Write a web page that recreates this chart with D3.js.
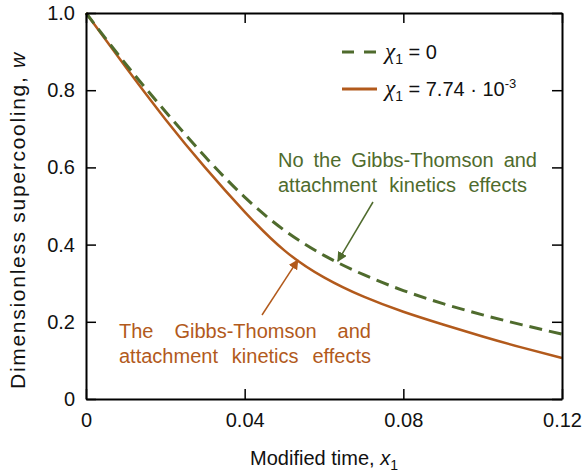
<!DOCTYPE html>
<html>
<head>
<meta charset="utf-8">
<script src="https://cdn.jsdelivr.net/npm/d3@7"></script>
<style>
  body { margin: 0; background: #fff; }
  text { font-family: "Liberation Sans", Arial, sans-serif; }
</style>
</head>
<body>
<div id="chart"></div>
<script>
// data
var timeValues = [0, 0.01, 0.02, 0.03, 0.04, 0.05, 0.06, 0.07, 0.08, 0.09, 0.10, 0.11, 0.12];
var noEffects = [1.0, 0.868, 0.745, 0.628, 0.523, 0.437, 0.372, 0.322, 0.281, 0.247, 0.218, 0.192, 0.168];
var withEffects = [1.0, 0.86, 0.725, 0.60, 0.485, 0.385, 0.315, 0.265, 0.226, 0.193, 0.162, 0.133, 0.106];
var xTicks = [0, 0.04, 0.08, 0.12];
var yTicks = [0, 0.2, 0.4, 0.6, 0.8, 1.0];
var xTickLabels = ["0", "0.04", "0.08", "0.12"];
var yTickLabels = ["0", "0.2", "0.4", "0.6", "0.8", "1.0"];

var width = 582, height = 472;
var plotLeft = 86, plotRight = 562, plotTop = 13, plotBottom = 399;
var green = "#4f6b2d", brown = "#b25a1c";

var svg = d3.select("#chart").append("svg")
    .attr("width", width)
    .attr("height", height);

var xScale = d3.scaleLinear().domain([0, 0.12]).range([plotLeft, plotRight]);
var yScale = d3.scaleLinear().domain([0, 1]).range([plotBottom, plotTop]);

// arrow heads
var defs = svg.append("defs");
function marker(id, color) {
    defs.append("marker")
        .attr("id", id)
        .attr("viewBox", "0 0 10 10")
        .attr("refX", 9).attr("refY", 5)
        .attr("markerWidth", 10).attr("markerHeight", 10)
        .attr("markerUnits", "userSpaceOnUse")
        .attr("orient", "auto")
        .append("path")
        .attr("d", "M0,0 L10,5 L0,10 Z")
        .attr("fill", color);
}
marker("arrGreen", green);
marker("arrBrown", brown);

// curves
var line = d3.line()
    .curve(d3.curveNatural)
    .x(function(d) { return xScale(d[0]); })
    .y(function(d) { return yScale(d[1]); });

svg.append("path")
    .datum(timeValues.map(function(t, i) { return [t, withEffects[i]]; }))
    .attr("d", line)
    .attr("fill", "none")
    .attr("stroke", brown)
    .attr("stroke-width", 2.5);

svg.append("path")
    .datum(timeValues.map(function(t, i) { return [t, noEffects[i]]; }))
    .attr("d", line)
    .attr("fill", "none")
    .attr("stroke", green)
    .attr("stroke-width", 3)
    .attr("stroke-dasharray", "13,7");

// frame and ticks on all four sides
var axes = svg.append("g").attr("class", "axes");
var tickLen = 10;
axes.append("g")
    .attr("transform", "translate(0," + plotBottom + ")")
    .call(d3.axisBottom(xScale).tickValues(xTicks).tickSizeInner(-tickLen).tickSizeOuter(0).tickPadding(14)
        .tickFormat(function(d, i) { return xTickLabels[i]; }));
axes.append("g")
    .attr("transform", "translate(0," + plotTop + ")")
    .call(d3.axisTop(xScale).tickValues(xTicks).tickSizeInner(-tickLen).tickSizeOuter(0).tickFormat(""));
axes.append("g")
    .attr("transform", "translate(" + plotLeft + ",0)")
    .call(d3.axisLeft(yScale).tickValues(yTicks).tickSizeInner(-tickLen).tickSizeOuter(0).tickPadding(11)
        .tickFormat(function(d, i) { return yTickLabels[i]; }));
axes.append("g")
    .attr("transform", "translate(" + plotRight + ",0)")
    .call(d3.axisRight(yScale).tickValues(yTicks).tickSizeInner(-tickLen).tickSizeOuter(0).tickFormat(""));

axes.selectAll(".domain").attr("stroke", "#000").attr("stroke-width", 2);
axes.selectAll(".tick line").attr("stroke", "#000").attr("stroke-width", 1.5);
axes.selectAll(".tick text")
    .attr("font-family", "Liberation Sans, Arial, sans-serif")
    .attr("font-size", 20)
    .attr("fill", "#111");

// axis titles
var xTitle = svg.append("text")
    .attr("x", (plotLeft + plotRight) / 2)
    .attr("y", 465)
    .attr("text-anchor", "middle")
    .attr("font-size", 20)
    .attr("fill", "#111");
xTitle.append("tspan").text("Modified time, ");
xTitle.append("tspan").attr("font-style", "italic").text("x");
xTitle.append("tspan").attr("dy", 5).attr("font-size", 14).text("1");

var yTitle = svg.append("text")
    .attr("transform", "translate(25,220) rotate(-90)")
    .attr("text-anchor", "middle")
    .attr("font-size", 21)
    .attr("fill", "#111");
yTitle.append("tspan").text("Dimensionless supercooling, ");
yTitle.append("tspan").attr("font-style", "italic").text("w");
// stretch the title along the axis like the reference
var yLen = yTitle.node().getComputedTextLength();
yTitle.attr("letter-spacing", (338 - yLen) / 29);

// legend
var legend = svg.append("g");
var legendItems = [
    { label: "0", color: green, dash: "12,10", y: 52, sup: null },
    { label: "7.74 \u00b7 10", color: brown, dash: null, y: 89, sup: "-3" }
];
legendItems.forEach(function(item) {
    legend.append("line")
        .attr("x1", 342).attr("x2", 377)
        .attr("y1", item.y).attr("y2", item.y)
        .attr("stroke", item.color)
        .attr("stroke-width", 3)
        .attr("stroke-dasharray", item.dash);
    var t = legend.append("text")
        .attr("x", 385)
        .attr("y", item.y + 7)
        .attr("font-size", 20)
        .attr("fill", "#111");
    t.append("tspan")
        .attr("font-family", "Liberation Serif, Times New Roman, serif")
        .attr("font-style", "italic")
        .attr("font-size", 23)
        .text("\u03c7");
    t.append("tspan").attr("dy", 5).attr("font-size", 14).text("1");
    t.append("tspan").attr("dy", -5).text(" = " + item.label);
    if (item.sup) t.append("tspan").attr("dy", -8).attr("font-size", 13).text(item.sup);
});

// annotations, spread out to the line widths seen in the reference
function note(lines, widths, x, y, color) {
    var t = svg.append("text")
        .attr("font-size", 20)
        .attr("fill", color);
    lines.forEach(function(s, i) {
        var span = t.append("tspan")
            .attr("x", x)
            .attr("y", y + i * 25)
            .text(s);
        var gaps = s.split(" ").length - 1;
        var extra = (widths[i] - span.node().getComputedTextLength()) / gaps;
        span.attr("word-spacing", Math.max(0, extra));
    });
}
note(["No the Gibbs-Thomson and", "attachment kinetics effects"], [259, 249], 278, 167, green);
note(["The Gibbs-Thomson and", "attachment kinetics effects"], [252, 252], 119, 338, brown);

svg.append("line")
    .attr("x1", 373).attr("y1", 202)
    .attr("x2", xScale(0.0635)).attr("y2", yScale(0.357))
    .attr("stroke", green).attr("stroke-width", 1.5)
    .attr("marker-end", "url(#arrGreen)");
svg.append("line")
    .attr("x1", 262).attr("y1", 315)
    .attr("x2", xScale(0.0534)).attr("y2", yScale(0.36))
    .attr("stroke", brown).attr("stroke-width", 1.5)
    .attr("marker-end", "url(#arrBrown)");
</script>
</body>
</html>
